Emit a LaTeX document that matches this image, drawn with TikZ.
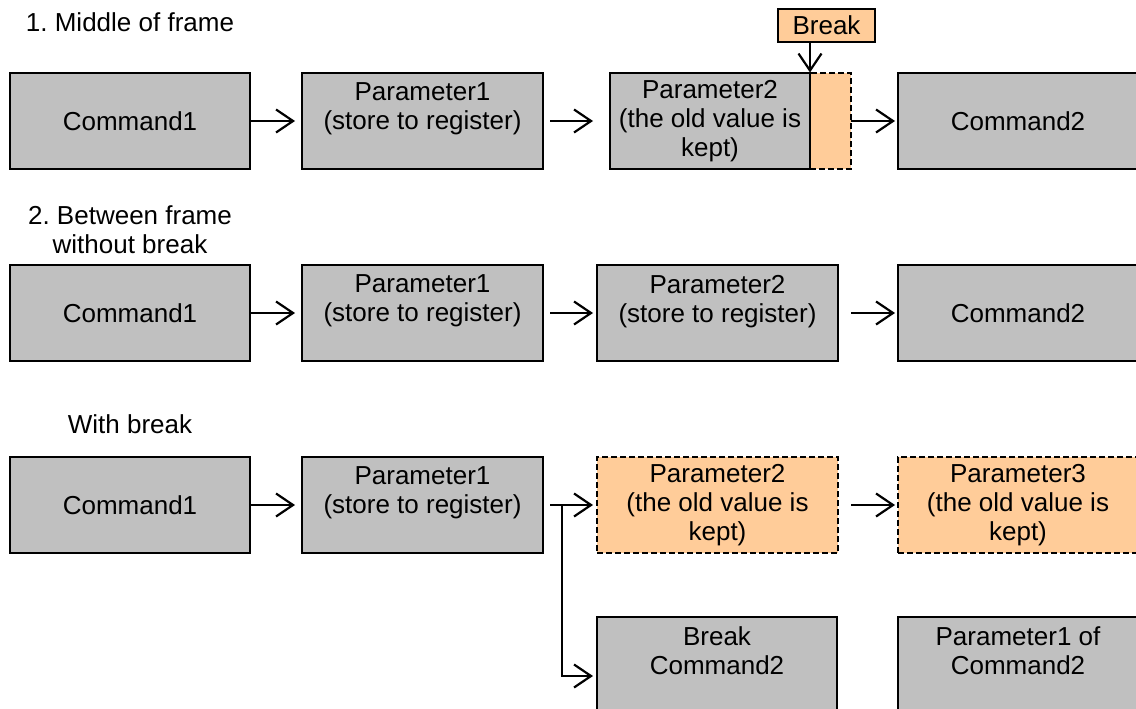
\documentclass[tikz,border=0pt]{standalone}
\usepackage{fontspec}
\setmainfont{Liberation Sans}
\usetikzlibrary{arrows.meta,calc}
\definecolor{boxgray}{RGB}{192,192,192}
\definecolor{boxorange}{RGB}{255,204,153}
\frenchspacing
\begin{document}
\begin{tikzpicture}[x=1pt,y=-1pt,
  every node/.style={font=\fontsize{26}{29}\selectfont, inner sep=0pt, outer sep=0pt},
  gbox/.style={draw=black, line width=2pt, fill=boxgray, align=center, minimum height=96pt, minimum width=240pt},
  obox/.style={draw=black, line width=2pt, fill=boxorange, dash pattern=on 6pt off 3pt, align=center, minimum height=96pt, minimum width=240pt},
  lbl/.style={align=center},
  conn/.style={line width=2.2pt},
  arr/.style={line width=2.2pt, -{Straight Barb[length=17pt,width=23pt]}}]
\useasboundingbox (0,0) rectangle (1136,709);
\clip (0,0) rectangle (1136,709);

% ---------- row 1 ----------
\node[anchor=base] (l1) at (130,32) {1. Middle of frame};
\node[gbox] (c1a) at (130,121) {Command1};
\node[gbox, minimum width=241pt] (p1a) at (422.5,121) {Parameter1\\(store to register)\\\mbox{}};
\node[obox, minimum width=41pt] (p2ao) at (830.5,121) {};
\node[gbox, minimum width=200pt] (p2a) at (710,121) {Parameter2\\(the old value is\\kept)};
\node[gbox] (c2a) at (1018,121) {Command2};
\node[draw=black, line width=2pt, fill=boxorange, minimum width=97pt, minimum height=33pt] (brk) at (826.5,25.5) {Break};

\draw[arr, shorten >=7pt] (c1a.east) -- (p1a.west);
\draw[arr, shorten <=7pt, shorten >=17pt] (p1a.east) -- (p2a.west);
\draw[arr, shorten >=3pt] (p2ao.east) -- (c2a.west);
\draw[arr, shorten >=0.5pt] (p2a.north east |- brk.south) -- (p2a.north east);

% ---------- row 2 ----------
\node[lbl] (l2) at (130,230) {2. Between frame\\without break};
\node[gbox] (c1b) at (130,313) {Command1};
\node[gbox, minimum width=241pt] (p1b) at (422.5,313) {Parameter1\\(store to register)\\\mbox{}};
\node[gbox, minimum width=241pt] (p2b) at (717.5,313) {Parameter2\\(store to register)\\\mbox{}};
\node[gbox] (c2b) at (1018,313) {Command2};

\draw[arr, shorten >=7pt] (c1b.east) -- (p1b.west);
\draw[arr, shorten <=7pt, shorten >=4pt] (p1b.east) -- (p2b.west);
\draw[arr, shorten <=13pt, shorten >=3pt] (p2b.east) -- (c2b.west);

% ---------- row 3 ----------
\node[anchor=base] (l3) at (130,433) {With break};
\node[gbox] (c1c) at (130,505) {Command1};
\node[gbox, minimum width=241pt] (p1c) at (422.5,505) {Parameter1\\(store to register)\\\mbox{}};
\node[obox, minimum width=241pt] (p2c) at (717.5,505) {Parameter2\\(the old value is\\kept)};
\node[obox] (p3c) at (1018,505) {Parameter3\\(the old value is\\kept)};

\draw[arr, shorten >=7pt] (c1c.east) -- (p1c.west);
\draw[arr, shorten <=7pt, shorten >=4pt] (p1c.east) -- (p2c.west);
\draw[arr, shorten <=13pt, shorten >=3pt] (p2c.east) -- (p3c.west);

% ---------- row 4 ----------
\node[gbox] (bc2) at (717,665) {Break\\Command2\\\mbox{}};
\node[gbox] (p1c2) at (1018,665) {Parameter1 of\\Command2\\\mbox{}};

\coordinate (js) at ($(p1c.east)+(7,0)$);
\coordinate (jn) at ($(p1c.east)+(19,0)$);
\coordinate (bin) at ($(bc2.west)+(0,11)$);
\draw[conn] (js) -- (jn);
\draw[arr, shorten >=4pt] (jn) |- (bin);
\end{tikzpicture}
\end{document}
